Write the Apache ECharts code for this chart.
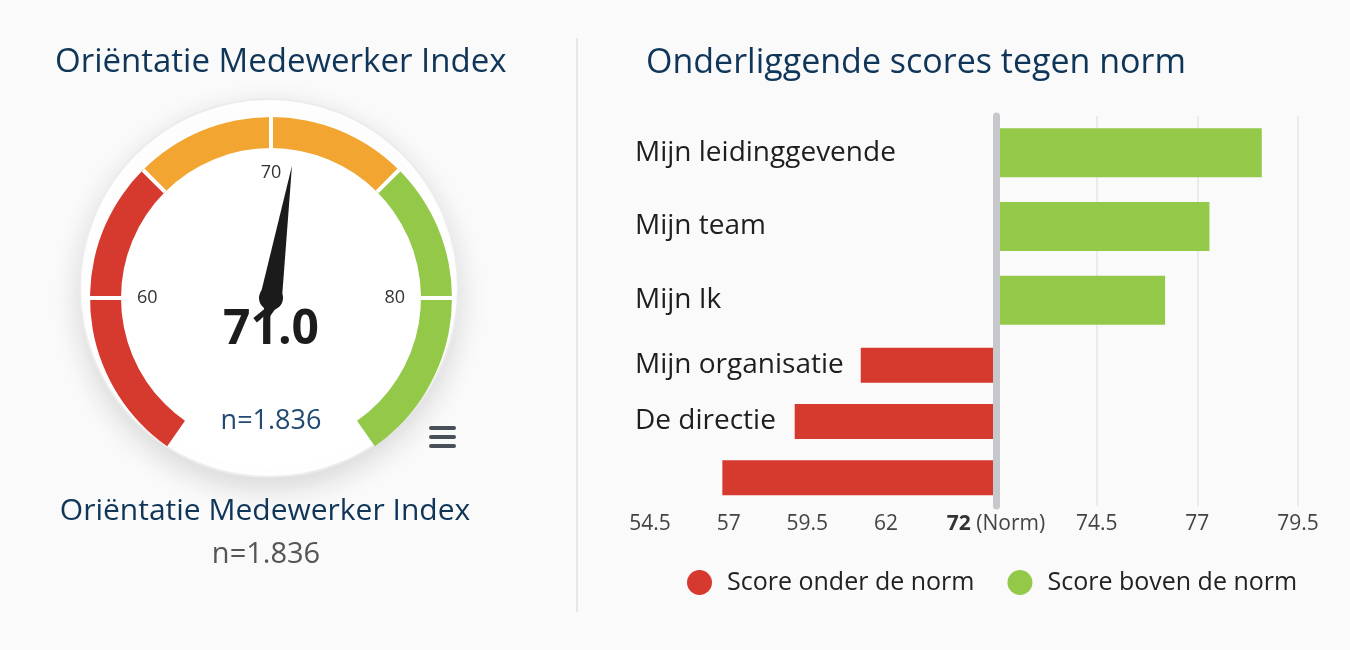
<!DOCTYPE html>
<html>
<head>
<meta charset="utf-8">
<script src="https://cdn.jsdelivr.net/npm/echarts@6/dist/echarts.min.js"></script>
<style>
  html, body { margin: 0; padding: 0; background: #fafafa; }
  #chart { width: 1350px; height: 650px; }
</style>
</head>
<body>
<div id="chart"></div>
<script>
// gauge
const gaugeValue = 71.0
const gaugeSample = 'n=1.836'
const gaugeMin = 53.9
const gaugeMax = 86.1
const gaugeBands = [65, 75] // red | orange | green
const gaugeTicks = [60, 70, 80]

// bars against norm
const norm = 72
const aboveCategories = ['Mijn leidinggevende', 'Mijn team', 'Mijn Ik']
const aboveScores = [78.6, 77.3, 76.2]
const belowCategories = ['Mijn organisatie', 'De directie', '']
const belowScores = [61.2, 59.1, 56.8]
const leftTicks = [54.5, 57, 59.5, 62]
const rightTicks = [72, 74.5, 77, 79.5]
const leftAxisMax = 65.5

const RED = '#d63a2f'
const ORANGE = '#f2a531'
const GREEN = '#93c848'
const NAVY = '#0f3558'
const FONT = 'Open Sans'

const frac = (v) => (v - gaugeMin) / (gaugeMax - gaugeMin)

const chart = echarts.init(document.getElementById('chart'))

const option = {
  backgroundColor: '#fafafa',
  textStyle: { fontFamily: FONT },
  title: [
    {
      text: 'Oriëntatie Medewerker Index',
      left: 50,
      top: 41,
      textStyle: { fontSize: 33, fontWeight: 'normal', color: NAVY, fontFamily: FONT },
    },
    {
      text: 'Onderliggende scores tegen norm',
      left: 641,
      top: 41,
      textStyle: { fontSize: 34, fontWeight: 'normal', color: NAVY, fontFamily: FONT },
    },
  ],
  legend: {
    data: ['Score onder de norm', 'Score boven de norm'],
    left: 682,
    top: 565,
    icon: 'circle',
    itemWidth: 25,
    itemHeight: 25,
    itemGap: 33,
    textStyle: { fontSize: 25, color: '#222', fontFamily: FONT, padding: [0, 0, 0, 10] },
  },
  graphic: [
    // divider between the two panels
    { type: 'line', shape: { x1: 577, y1: 38, x2: 577, y2: 612 }, style: { stroke: '#e6e6e6', lineWidth: 2 } },
    // gauge disc
    {
      type: 'circle',
      shape: { cx: 269, cy: 288, r: 189 },
      style: { fill: '#fff', stroke: '#ececec', lineWidth: 2, shadowBlur: 30, shadowOffsetY: 10, shadowColor: 'rgba(0,0,0,0.14)' },
    },
    // menu icon
    { type: 'rect', shape: { x: 429, y: 426, width: 27, height: 4, r: 2 }, style: { fill: '#4a505a' } },
    { type: 'rect', shape: { x: 429, y: 435, width: 27, height: 4, r: 2 }, style: { fill: '#4a505a' } },
    { type: 'rect', shape: { x: 429, y: 444, width: 27, height: 4, r: 2 }, style: { fill: '#4a505a' } },
    {
      type: 'text', x: 265, y: 511,
      style: { text: 'Oriëntatie Medewerker Index', fontSize: 30, fontFamily: FONT, fill: NAVY, textAlign: 'center', textVerticalAlign: 'middle' },
    },
    {
      type: 'text', x: 266, y: 555,
      style: { text: gaugeSample, fontSize: 29, fontFamily: FONT, fill: '#555', textAlign: 'center', textVerticalAlign: 'middle' },
    },
  ],
  grid: [
    { left: 996, top: 116, width: 302, height: 221 }, // above norm
    { left: 996, top: 337, width: 302, height: 169 }, // right, lower part
    { left: 650, top: 337, width: 346, height: 169 }, // below norm
  ],
  xAxis: [
    {
      gridIndex: 0, type: 'value', min: norm, max: 79.5, interval: 2.5,
      axisLine: { show: false }, axisTick: { show: false }, axisLabel: { show: false },
      splitLine: { lineStyle: { color: '#e6e6e6', width: 1.5 } },
    },
    {
      gridIndex: 1, type: 'value', min: norm, max: 79.5, interval: 2.5,
      axisLine: { show: false }, axisTick: { show: false },
      splitLine: { lineStyle: { color: '#e6e6e6', width: 1.5 } },
      axisLabel: {
        fontSize: 21, color: '#444', margin: 8,
        formatter: (v) => (v === norm ? '{b|' + v + '} (Norm)' : rightTicks.includes(v) ? String(v) : ''),
        rich: { b: { fontSize: 21, fontWeight: 'bold', color: '#333' } },
      },
    },
    {
      gridIndex: 2, type: 'value', min: 54.5, max: leftAxisMax, interval: 2.5, startValue: leftAxisMax,
      axisLine: { show: false }, axisTick: { show: false }, splitLine: { show: false },
      axisLabel: {
        fontSize: 21, color: '#444', margin: 8,
        formatter: (v) => (leftTicks.includes(v) ? String(v) : ''),
      },
    },
  ],
  yAxis: [
    {
      gridIndex: 0, type: 'category', data: aboveCategories, inverse: true, z: 5,
      axisLine: { lineStyle: { color: '#c6c8cc', width: 7 } }, axisTick: { show: false },
      axisLabel: { align: 'left', margin: 361, fontSize: 28, color: '#1e1e1e' },
    },
    {
      gridIndex: 1, type: 'category', data: belowCategories, inverse: true, z: 5,
      axisLine: { lineStyle: { color: '#c6c8cc', width: 7 } }, axisTick: { show: false },
      axisLabel: { show: false },
    },
    {
      gridIndex: 2, type: 'category', data: belowCategories, inverse: true,
      axisLine: { show: false }, axisTick: { show: false },
      axisLabel: { align: 'left', margin: 15, fontSize: 28, color: '#1e1e1e' },
    },
  ],
  series: [
    {
      type: 'gauge',
      center: [271, 298],
      radius: 181,
      startAngle: 235,
      endAngle: -55,
      min: gaugeMin,
      max: gaugeMax,
      splitNumber: 58,
      axisLine: {
        lineStyle: {
          width: 31,
          color: [[frac(gaugeBands[0]), RED], [frac(gaugeBands[1]), ORANGE], [1, GREEN]],
        },
      },
      splitLine: { show: false },
      axisTick: { show: false },
      axisLabel: {
        distance: 27,
        fontSize: 18,
        color: '#333',
        formatter: (v) => {
          const r = Math.round(v)
          return Math.abs(v - r) < 0.05 && gaugeTicks.includes(r) ? String(r) : ''
        },
      },
      pointer: { length: '74%', width: 11, itemStyle: { color: '#1b1b1b' } },
      anchor: { show: true, showAbove: true, size: 24, itemStyle: { color: '#1b1b1b' } },
      detail: {
        offsetCenter: [0, 32],
        fontSize: 48,
        fontWeight: 'bold',
        color: '#1c1c1c',
        fontFamily: FONT,
        formatter: (v) => v.toFixed(1),
      },
      title: { offsetCenter: [0, 123], fontSize: 27, color: '#234a72', fontFamily: FONT },
      data: [{ value: gaugeValue, name: gaugeSample }],
    },
    {
      // white gaps between the arc segments
      type: 'gauge',
      center: [271, 298],
      radius: 181,
      startAngle: 180,
      endAngle: 0,
      min: 60,
      max: 80,
      splitNumber: 4,
      axisLine: { lineStyle: { width: 31, color: [[1, 'rgba(0,0,0,0)']] } },
      splitLine: { length: 31, distance: -31, lineStyle: { color: '#fff', width: 4 } },
      axisTick: { show: false },
      axisLabel: { show: false },
      pointer: { show: false },
      anchor: { show: false },
      detail: { show: false },
      title: { show: false },
      data: [],
    },
    {
      name: 'Score onder de norm',
      type: 'bar',
      xAxisIndex: 2,
      yAxisIndex: 2,
      data: belowScores,
      barWidth: 35,
      itemStyle: { color: RED },
    },
    {
      name: 'Score boven de norm',
      type: 'bar',
      xAxisIndex: 0,
      yAxisIndex: 0,
      data: aboveScores,
      barWidth: 49,
      itemStyle: { color: GREEN },
    },
  ],
}

chart.setOption(option)
</script>
</body>
</html>
